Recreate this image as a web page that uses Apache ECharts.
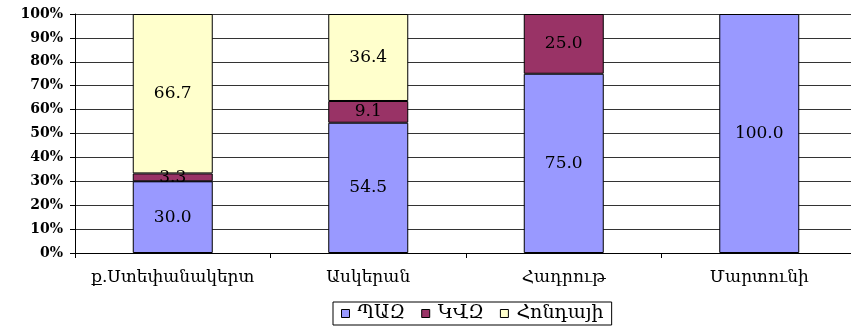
<!DOCTYPE html>
<html>
<head>
<meta charset="utf-8">
<script src="https://cdn.jsdelivr.net/npm/echarts@6/dist/echarts.min.js"></script>
<style>
  html, body { margin: 0; padding: 0; background: #ffffff; overflow: hidden; }
  #chart { width: 870px; height: 326px; }
</style>
</head>
<body>
<div id="chart"></div>
<script>
// Regions (category axis)
const categories = ['ք.Ստեփանակերտ', 'Ասկերան', 'Հադրութ', 'Մարտունի'];

// Share of each bus make per region, percent
const pazValues = [30.0, 54.5, 75.0, 100.0];
const kavzValues = [3.3, 9.1, 25.0, 0];
const hondaValues = [66.7, 36.4, 0, 0];

const seriesNames = ['ՊԱԶ', 'ԿՎԶ', 'Հոնդայի'];
const seriesColors = ['#9999FF', '#993366', '#FFFFCC'];

// Percent ticks on the value axis
const yTicks = [0, 10, 20, 30, 40, 50, 60, 70, 80, 90, 100];

const FONT = '"DejaVu Serif", "Liberation Serif", serif';

function makeSeries(name, values, color) {
  return {
    name: name,
    type: 'bar',
    stack: 'total',
    barWidth: 80,
    // empty segments are left out so they draw no outline
    data: values.map(v => (v > 0 ? v : '-')),
    itemStyle: { color: color, borderColor: '#000000', borderWidth: 1 },
    label: {
      show: true,
      position: 'inside',
      color: '#000000',
      fontFamily: FONT,
      fontSize: 17,
      formatter: p => Number(p.value).toFixed(1)
    }
  };
}

const chart = echarts.init(document.getElementById('chart'), null, { renderer: 'canvas' });
chart.setOption({
  animation: false,
  backgroundColor: '#ffffff',
  grid: { left: 75, top: 14, width: 782, height: 239, containLabel: false },
  legend: {
    bottom: 1,
    left: 333,
    itemWidth: 8,
    itemHeight: 8,
    itemGap: 16,
    padding: [2, 8, 2, 8],
    borderColor: '#000000',
    borderWidth: 1,
    icon: 'rect',
    itemStyle: { borderColor: '#000000', borderWidth: 1 },
    textStyle: { fontFamily: FONT, fontSize: 19, color: '#000000', padding: [0, 0, 0, 3] },
    data: seriesNames
  },
  xAxis: {
    type: 'category',
    data: categories,
    axisLine: { lineStyle: { color: '#000000' } },
    axisTick: { show: true, alignWithLabel: false, length: 5, lineStyle: { color: '#000000' } },
    axisLabel: { interval: 0, fontFamily: FONT, fontSize: 17, color: '#000000', margin: 16 }
  },
  yAxis: {
    type: 'value',
    min: yTicks[0],
    max: yTicks[yTicks.length - 1],
    interval: yTicks[1] - yTicks[0],
    axisLine: { show: true, lineStyle: { color: '#000000' } },
    axisTick: { show: true, length: 5, lineStyle: { color: '#000000' } },
    axisLabel: {
      fontFamily: FONT, fontSize: 14, fontWeight: 'bold', color: '#000000', margin: 12,
      formatter: '{value}%'
    },
    splitLine: { show: true, lineStyle: { color: '#333333', width: 1 } }
  },
  series: [
    makeSeries(seriesNames[0], pazValues, seriesColors[0]),
    makeSeries(seriesNames[1], kavzValues, seriesColors[1]),
    makeSeries(seriesNames[2], hondaValues, seriesColors[2])
  ]
});
</script>
</body>
</html>
